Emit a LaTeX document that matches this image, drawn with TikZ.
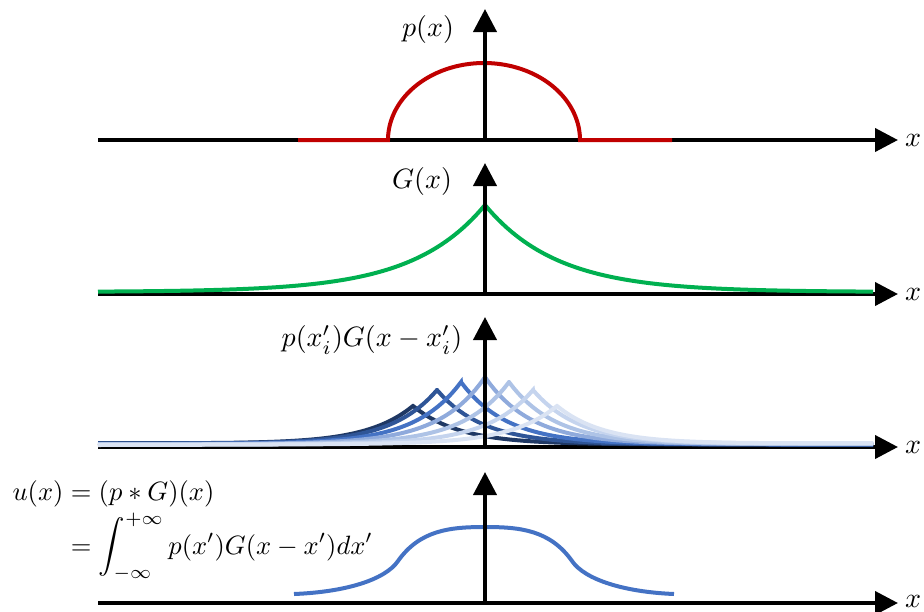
\documentclass[tikz,border=0pt]{standalone}
\usepackage{amsmath}
\usetikzlibrary{arrows.meta}
\definecolor{pred}{HTML}{C00000}
\definecolor{pgreen}{HTML}{00B050}
\definecolor{pblue}{HTML}{4472C4}
\definecolor{cA}{HTML}{1F3864}
\definecolor{cB}{HTML}{2F5597}
\definecolor{cC}{HTML}{4472C4}
\definecolor{cD}{HTML}{8FAADC}
\definecolor{cE}{HTML}{AEC3E6}
\definecolor{cF}{HTML}{C5D4EE}
\definecolor{cG}{HTML}{DAE3F3}
\tikzset{
  axisline/.style={line width=4pt, -{Triangle[width=23pt,length=23pt]}},
  curve/.style={line width=4pt},
  lbl/.style={inner sep=0pt, scale=2.8},
  frm/.style={inner sep=0pt, anchor=base west, scale=2.65},
}
\begin{document}
\begin{tikzpicture}[x=1pt,y=-1pt]
\useasboundingbox (0,0) rectangle (924,611);
% ---------- panel 1 ----------
\coordinate (h1s) at (98,140); \coordinate (h1e) at (898,140);
\coordinate (v1b) at (485,140); \coordinate (v1t) at (485,9);
\draw[axisline] (h1s) -- (h1e);
\draw[curve, pred] (298,140) -- (388,140)
  -- plot[domain=180:0, samples=90] ({484+96*cos(\x)}, {140-77*sin(\x)})
  -- (672,140);
\draw[axisline] (v1b) -- (v1t);
\node[lbl] (lp) at (428,29) {$p(x)$};
\node[lbl] (x1) at (913,140) {$x$};
% ---------- panel 2 ----------
\coordinate (h2s) at (98,294); \coordinate (h2e) at (898,294);
\coordinate (v2b) at (485,294); \coordinate (v2t) at (485,163);
\draw[axisline] (h2s) -- (h2e);
\draw[curve, pgreen] plot[domain=98:485, samples=90] (\x, {292-87*exp(-(485-\x)/72)})
  -- plot[domain=485:873, samples=90] (\x, {292-87*exp(-(\x-485)/72)});
\draw[axisline] (v2b) -- (v2t);
\node[lbl] (lg) at (422,181) {$G(x)$};
\node[lbl] (x2) at (913,294) {$x$};
% ---------- panel 3 ----------
\coordinate (h3s) at (98,447); \coordinate (h3e) at (898,447);
\coordinate (v3b) at (485,447); \coordinate (v3t) at (485,317);
\draw[axisline] (h3s) -- (h3e);
\foreach \c/\h/\col/\k in {413/38/cA/0, 437/54/cB/1, 461/62/cC/2, 485/67/cD/3, 509/62/cE/4, 533/54/cF/5, 557/38/cG/6}{
  \draw[curve, \col]
    plot[domain=98:\c, samples=80] (\x, {445-0.3*(\k*(\x-98)/775+(6-\k)*(873-\x)/775)-\h*exp(-(\c-\x)/46)})
    -- plot[domain=\c:873, samples=80] (\x, {445-0.3*(\k*(\x-98)/775+(6-\k)*(873-\x)/775)-\h*exp(-(\x-\c)/46)});
}
\draw[axisline] (v3b) -- (v3t);
\node[lbl] (lpg) at (372,340) {$p(x_i')G(x-x_i')$};
\node[lbl] (x3) at (913,447) {$x$};
% ---------- panel 4 ----------
\coordinate (h4s) at (98,603); \coordinate (h4e) at (898,603);
\coordinate (v4b) at (485,603); \coordinate (v4t) at (485,472);
\draw[axisline] (h4s) -- (h4e);
\draw[curve, pblue] (294,594) .. controls (345,592) and (385,580) .. (398,561)
  .. controls (420,530) and (450,527) .. (485,527)
  .. controls (520,527) and (550,530) .. (572,561)
  .. controls (585,580) and (625,592) .. (674,594);
\draw[axisline] (v4b) -- (v4t);
\node[frm] (f1) at (12,500) {$u(x)=(p\ast G)(x)$};
\node[frm] (f2) at (12,554) {$\displaystyle\phantom{u(x)}=\int_{-\infty}^{+\infty}p(x')G(x-x')dx'$};
\node[lbl] (x4) at (913,601) {$x$};
\end{tikzpicture}
\end{document}
